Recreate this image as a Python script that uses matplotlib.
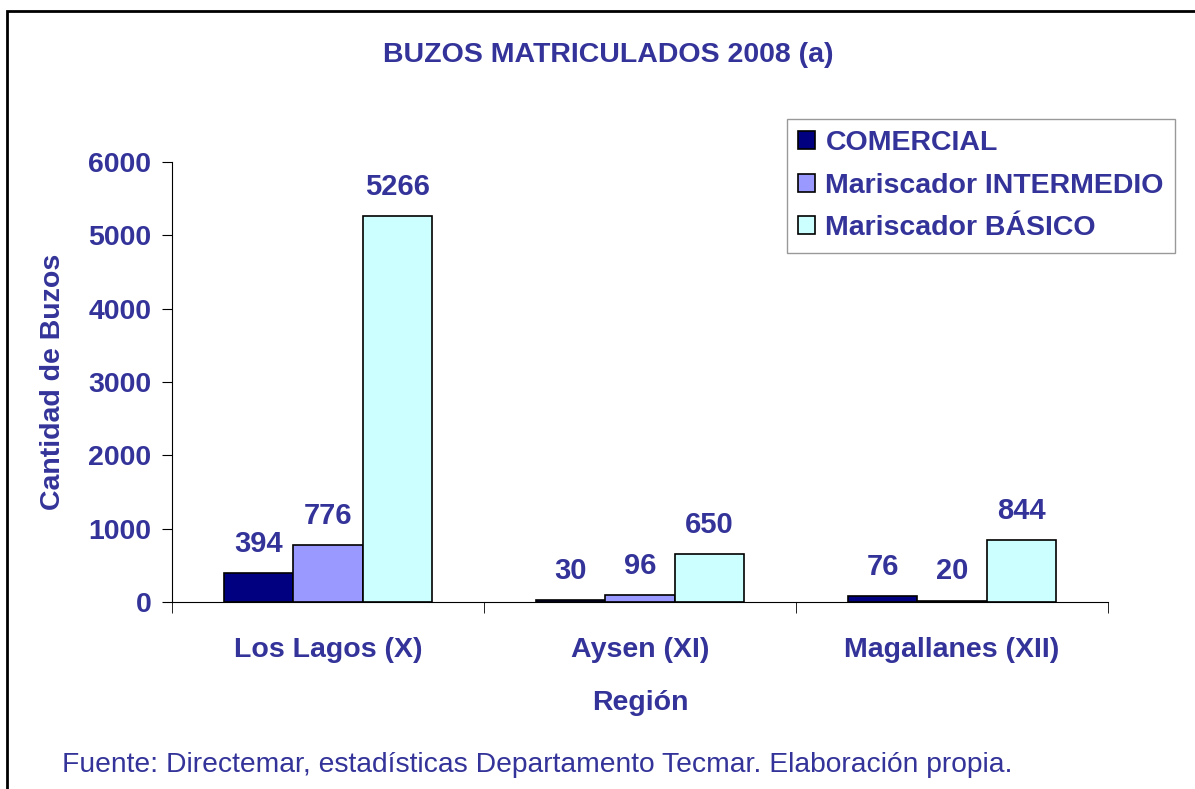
import matplotlib.pyplot as plt
import numpy as np
from matplotlib.patches import Rectangle

# Datos
regiones = ['Los Lagos (X)', 'Aysen (XI)', 'Magallanes (XII)']
series = ['COMERCIAL', 'Mariscador INTERMEDIO', 'Mariscador BÁSICO']
comercial = [394, 30, 76]
intermedio = [776, 96, 20]
basico = [5266, 650, 844]

colores = ['#000080', '#9999FF', '#CCFFFF']
azul = '#333399'

plt.rcParams['font.family'] = ['Liberation Sans', 'DejaVu Sans']

fig = plt.figure(figsize=(11.95, 7.89), dpi=100)
# marco del gráfico
fig.patches.append(Rectangle((7 / 1195, -0.1), 1.2, 1 - 11 / 789 + 0.1,
                             transform=fig.transFigure, fill=False,
                             edgecolor='black', linewidth=2))

ax = fig.add_axes([172 / 1195, 1 - 602 / 789, 936 / 1195, 440 / 789])

x = np.arange(len(regiones))
ancho = 0.222
for i, (vals, nombre) in enumerate(zip([comercial, intermedio, basico], series)):
    barras = ax.bar(x + (i - 1) * ancho, vals, ancho, color=colores[i],
                    edgecolor='black', linewidth=1.2, label=nombre)
    for b, v in zip(barras, vals):
        ax.annotate(str(v), (b.get_x() + b.get_width() / 2, v),
                    xytext=(0, 11), textcoords='offset points',
                    ha='center', va='bottom', fontsize=21,
                    fontweight='bold', color=azul)

ax.set_xlim(-0.5, 2.5)
ax.set_ylim(0, 6000)
ax.set_yticks(range(0, 6001, 1000))
ax.set_xticks(x)
ax.set_xticklabels(regiones)
ax.set_xticks([-0.5, 0.5, 1.5, 2.5], minor=True)
ax.tick_params(axis='x', which='major', length=0, pad=25.5)
ax.tick_params(axis='x', which='minor', length=8, direction='out')
ax.tick_params(axis='y', length=7, direction='out', pad=8)
for lab in ax.get_xticklabels() + ax.get_yticklabels():
    lab.set_fontsize(20.5)
    lab.set_fontweight('bold')
    lab.set_color(azul)
ax.spines['top'].set_visible(False)
ax.spines['right'].set_visible(False)

ax.set_xlabel('Región', fontsize=20.5, fontweight='bold', color=azul, labelpad=19.5)
ax.set_ylabel('Cantidad de Buzos', fontsize=20.5, fontweight='bold', color=azul, labelpad=16)

fig.text(608 / 1195, 1 - 55 / 789, 'BUZOS MATRICULADOS 2008 (a)', ha='center',
         va='center', fontsize=20.5, fontweight='bold', color=azul)

leg = ax.legend(loc='upper left', bbox_to_anchor=((787 - 172) / 936, (602 - 119) / 440),
                frameon=True, fancybox=False, edgecolor='#808080',
                prop={'size': 20.5, 'weight': 'bold'}, handlelength=0.6,
                handleheight=0.6, handletextpad=0.35, borderpad=0.4,
                labelspacing=0.58, borderaxespad=0)
for t in leg.get_texts():
    t.set_color(azul)

fig.text(62 / 1195, 1 - 765 / 789,
         'Fuente: Directemar, estadísticas Departamento Tecmar. Elaboración propia.',
         ha='left', va='center', fontsize=20.3, color=azul)

fig.savefig('out.png', dpi=100)
